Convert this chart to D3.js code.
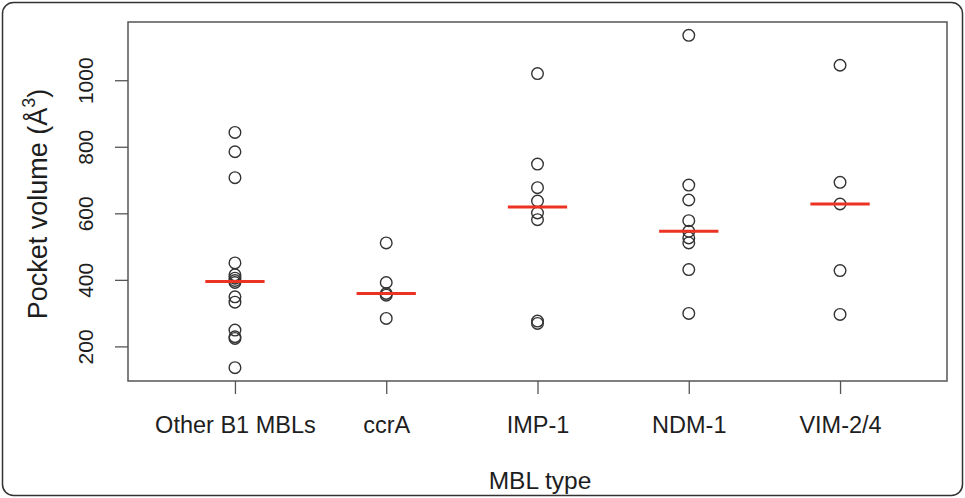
<!DOCTYPE html>
<html>
<head>
<meta charset="utf-8">
<script src="https://cdn.jsdelivr.net/npm/d3@7"></script>
<style>
  body { margin: 0; background: #fff; }
  svg { display: block; font-family: "Liberation Sans", Arial, sans-serif; }
</style>
</head>
<body>
<div id="chart"></div>
<script>
//categories and pocket volumes
const categories = ["Other B1 MBLs", "ccrA", "IMP-1", "NDM-1", "VIM-2/4"];
const otherB1 = [843, 785, 707, 451, 415, 405, 398, 392, 349, 333, 249, 229, 224, 136];
const ccrA = [511, 392, 359, 354, 284];
const imp1 = [1020, 748, 677, 637, 601, 581, 276, 269];
const ndm1 = [1135, 685, 640, 578, 546, 526, 511, 431, 299];
const vim24 = [1045, 693, 628, 428, 296];
const yTicks = [200, 400, 600, 800, 1000];

const groups = [otherB1, ccrA, imp1, ndm1, vim24];

//svg size and plot box
const width = 965;
const height = 498;
const marginTop = 22;
const marginRight = 18;
const marginBottom = 117;
const marginLeft = 128;

const svg = d3.select("#chart").append("svg")
    .attr("width", width)
    .attr("height", height)
    .attr("viewBox", [0, 0, width, height]);

//outer rounded frame
svg.append("rect")
    .attr("x", 2.5)
    .attr("y", 2.5)
    .attr("width", width - 5)
    .attr("height", height - 5)
    .attr("rx", 11)
    .attr("fill", "#fff")
    .attr("stroke", "#333")
    .attr("stroke-width", 1.5);

//scales
const x = d3.scaleLinear([0.293, 5.707], [marginLeft, width - marginRight]);
const y = d3.scaleLinear([96, 1175], [height - marginBottom, marginTop]);

//plot box
svg.append("rect")
    .attr("x", marginLeft)
    .attr("y", marginTop)
    .attr("width", width - marginRight - marginLeft)
    .attr("height", height - marginBottom - marginTop)
    .attr("fill", "none")
    .attr("stroke", "#555")
    .attr("stroke-width", 1.5);

//x axis with category ticks
const xAxis = d3.axisBottom(x)
    .tickValues(d3.range(1, categories.length + 1))
    .tickFormat(i => categories[i - 1])
    .tickSize(13)
    .tickPadding(22);

svg.append("g")
    .attr("transform", `translate(0,${height - marginBottom})`)
    .call(xAxis)
    .call(g => g.select(".domain").remove())
    .call(g => g.selectAll(".tick line").attr("stroke", "#555").attr("stroke-width", 1.3))
    .call(g => g.selectAll(".tick text")
        .attr("fill", "#1e1e1e")
        .attr("font-size", 23.5)
        .attr("font-family", "'Liberation Sans', Arial, sans-serif"));

//y axis with rotated labels like base R
const yAxis = d3.axisLeft(y)
    .tickValues(yTicks)
    .tickFormat(d3.format("d"))
    .tickSize(13)
    .tickPadding(0);

svg.append("g")
    .attr("transform", `translate(${marginLeft},0)`)
    .call(yAxis)
    .call(g => g.select(".domain").remove())
    .call(g => g.selectAll(".tick line").attr("stroke", "#555").attr("stroke-width", 1.3))
    .call(g => g.selectAll(".tick text")
        .attr("fill", "#1e1e1e")
        .attr("font-size", 21)
        .attr("font-family", "'Liberation Sans', Arial, sans-serif")
        .attr("text-anchor", "middle")
        .attr("dy", 0)
        .attr("x", 0)
        .attr("transform", "translate(-35,0) rotate(-90)"));

//axis titles
svg.append("text")
    .attr("x", 540)
    .attr("y", 489)
    .attr("text-anchor", "middle")
    .attr("font-size", 24.5)
    .attr("fill", "#1e1e1e")
    .text("MBL type");

const yTitle = svg.append("text")
    .attr("transform", "translate(47,204) rotate(-90)")
    .attr("text-anchor", "middle")
    .attr("font-size", 27)
    .attr("fill", "#1e1e1e");
yTitle.append("tspan").text("Pocket volume (Å");
yTitle.append("tspan").attr("font-size", 18).attr("dy", -12).text("3");
yTitle.append("tspan").attr("dy", 12).text(")");

//points for each group
const pts = groups.flatMap((vals, i) => vals.map(v => ({ group: i + 1, value: v })));

svg.append("g")
    .attr("fill", "none")
    .attr("stroke", "#333")
    .attr("stroke-width", 1.4)
    .selectAll("circle")
    .data(pts)
    .join("circle")
    .attr("cx", d => x(d.group))
    .attr("cy", d => y(d.value))
    .attr("r", 5.8);

//median lines in red
svg.append("g")
    .attr("stroke", "#ec3323")
    .attr("stroke-width", 3)
    .selectAll("line")
    .data(groups.map((vals, i) => ({ group: i + 1, median: d3.median(vals) })))
    .join("line")
    .attr("x1", d => x(d.group - 0.196))
    .attr("x2", d => x(d.group + 0.196))
    .attr("y1", d => y(d.median))
    .attr("y2", d => y(d.median));
</script>
</body>
</html>
